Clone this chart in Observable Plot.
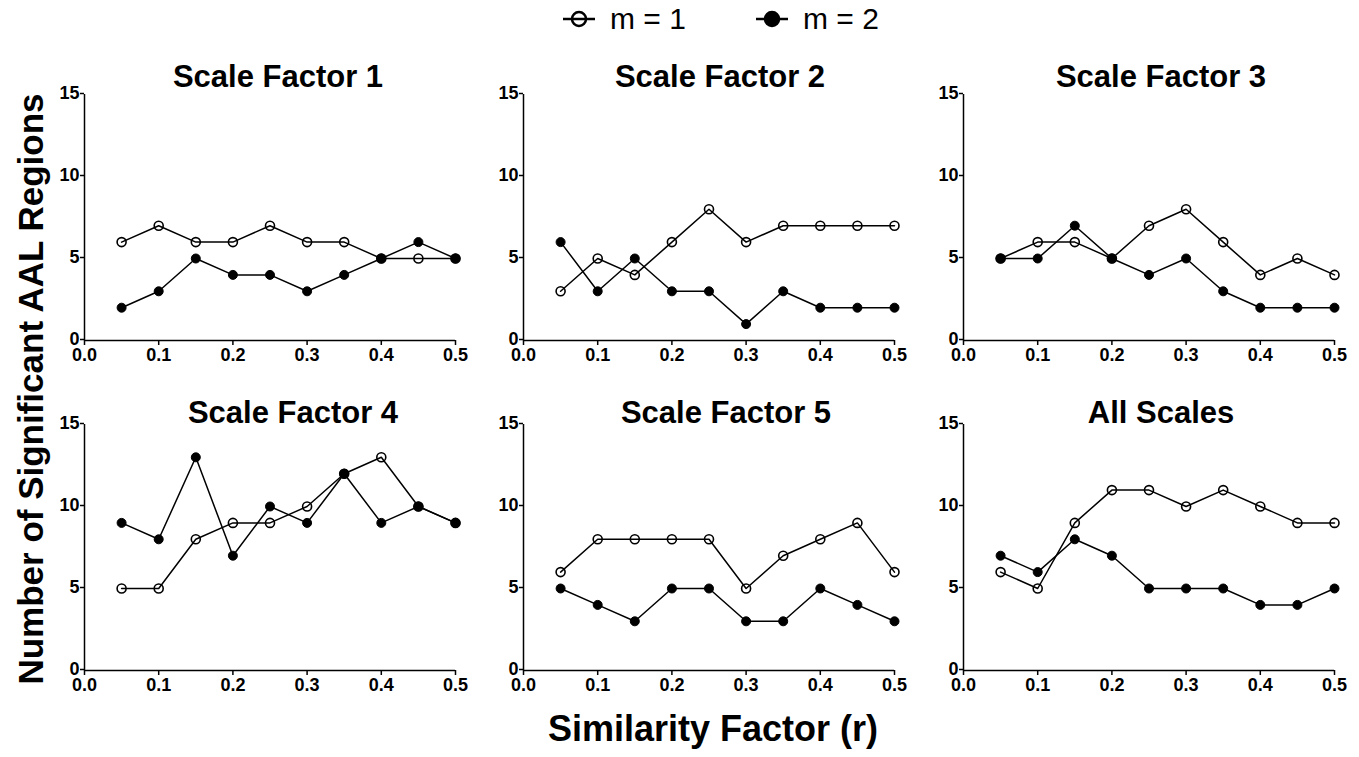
<!DOCTYPE html>
<html><head><meta charset="utf-8">
<script src="https://cdn.jsdelivr.net/npm/d3@7"></script>
<script src="https://cdn.jsdelivr.net/npm/@observablehq/plot@0.6"></script>
<style>
body{margin:0;background:#fff;font-family:"Liberation Sans",Arial,sans-serif;color:#000}
#wrap{position:relative;width:1359px;height:757px;overflow:hidden;background:#fff}
.abs{position:absolute}
.lbl{position:absolute;white-space:nowrap;font-weight:bold;transform:translate(-50%,-50%);line-height:1}
.leg{position:absolute;top:2px;display:flex;align-items:center;font-size:30px;height:34px;line-height:1}
.leg svg{margin-right:14px}
</style></head>
<body><div id="wrap"></div>
<script>
// ---- data ----
const rValues = [0.05, 0.1, 0.15, 0.2, 0.25, 0.3, 0.35, 0.4, 0.45, 0.5];
const panelTitles = ["Scale Factor 1", "Scale Factor 2", "Scale Factor 3", "Scale Factor 4", "Scale Factor 5", "All Scales"];
const sf1_m1 = [6, 7, 6, 6, 7, 6, 6, 5, 5, 5];
const sf1_m2 = [2, 3, 5, 4, 4, 3, 4, 5, 6, 5];
const sf2_m1 = [3, 5, 4, 6, 8, 6, 7, 7, 7, 7];
const sf2_m2 = [6, 3, 5, 3, 3, 1, 3, 2, 2, 2];
const sf3_m1 = [5, 6, 6, 5, 7, 8, 6, 4, 5, 4];
const sf3_m2 = [5, 5, 7, 5, 4, 5, 3, 2, 2, 2];
const sf4_m1 = [5, 5, 8, 9, 9, 10, 12, 13, 10, 9];
const sf4_m2 = [9, 8, 13, 7, 10, 9, 12, 9, 10, 9];
const sf5_m1 = [6, 8, 8, 8, 8, 5, 7, 8, 9, 6];
const sf5_m2 = [5, 4, 3, 5, 5, 3, 3, 5, 4, 3];
const all_m1 = [6, 5, 9, 11, 11, 10, 11, 10, 9, 9];
const all_m2 = [7, 6, 8, 7, 5, 5, 5, 4, 4, 5];
const seriesNames = ["m = 1", "m = 2"];
const xTicks = [0, 0.1, 0.2, 0.3, 0.4, 0.5];
const yTicks = [0, 5, 10, 15];
const xLabel = "Similarity Factor (r)";
const yLabel = "Number of Significant AAL Regions";

const panelSeries = [[sf1_m1, sf1_m2], [sf2_m1, sf2_m2], [sf3_m1, sf3_m2], [sf4_m1, sf4_m2], [sf5_m1, sf5_m2], [all_m1, all_m2]];

// ---- layout ----
const wrap = document.getElementById("wrap");
const colLeft = [40, 479, 919];
const rowTop = [40, 370];
const titleDy = [-8, -2];
const titleDx = [8, 11, 12, 23, 17, 12];

panelSeries.forEach((pair, i) => {
  const col = i % 3, row = Math.floor(i / 3);
  const rows = [];
  pair.forEach((vals, s) => vals.forEach((v, k) => rows.push({r: rValues[k], v, m: seriesNames[s]})));
  const open = rows.filter(d => d.m === seriesNames[0]);
  const filled = rows.filter(d => d.m === seriesNames[1]);
  const p = Plot.plot({
    width: 435,
    height: row === 0 ? 330 : 329,
    marginLeft: 44,
    marginRight: 20,
    marginTop: 54,
    marginBottom: row === 0 ? 30 : 29,
    style: {fontFamily: "'Liberation Sans', Arial, sans-serif", color: "#000", background: "transparent", overflow: "visible"},
    x: {domain: [0, 0.5]},
    y: {domain: [0, 15]},
    marks: [
      Plot.axisX({ticks: xTicks, tickFormat: d3.format(".1f"), tickSize: 5, tickPadding: 3, label: null, strokeWidth: 1.5, fontSize: 18, fontWeight: "bold", fill: "#000"}),
      Plot.axisY({ticks: yTicks, tickSize: 4, tickPadding: 1, label: null, strokeWidth: 1.5, fontSize: 18, fontWeight: "bold", fill: "#000", dy: -1}),
      Plot.ruleX([0], {stroke: "#000", strokeWidth: 1.5}),
      Plot.ruleY([0], {stroke: "#000", strokeWidth: 1.5}),
      Plot.line(rows, {x: "r", y: "v", z: "m", stroke: "#000", strokeWidth: 1.5}),
      Plot.dot(open, {x: "r", y: "v", r: 4.5, fill: "none", stroke: "#000", strokeWidth: 1.6}),
      Plot.dot(filled, {x: "r", y: "v", r: 4.5, fill: "#000", stroke: "#000", strokeWidth: 1}),
      Plot.text([panelTitles[i]], {frameAnchor: "top", lineAnchor: "bottom", dx: titleDx[i], dy: titleDy[row], fontSize: 31, fontWeight: "bold", fill: "#000"})
    ]
  });
  p.classList.add("abs");
  p.style.left = colLeft[col] + "px";
  p.style.top = rowTop[row] + "px";
  wrap.appendChild(p);
});

// legend
function legendItem(name, isOpen, left) {
  const d = document.createElement("div");
  d.className = "leg";
  d.style.left = left + "px";
  d.innerHTML = `<svg width="34" height="20"><line x1="1" x2="33" y1="10" y2="10" stroke="#000" stroke-width="2.5"/>` +
    `<circle cx="17" cy="10" r="7" fill="${isOpen ? "none" : "#000"}" stroke="#000" stroke-width="2.5"/></svg><span>${name}</span>`;
  wrap.appendChild(d);
}
legendItem(seriesNames[0], true, 562);
legendItem(seriesNames[1], false, 755);

// axis titles
const yl = document.createElement("div");
yl.className = "lbl";
yl.style.fontSize = "35px";
yl.style.left = "30px"; yl.style.top = "389px";
yl.style.transform = "translate(-50%,-50%) rotate(-90deg)";
yl.textContent = yLabel;
wrap.appendChild(yl);

const xl = document.createElement("div");
xl.className = "lbl";
xl.style.fontSize = "36px";
xl.style.left = "713px"; xl.style.top = "729px";
xl.textContent = xLabel;
wrap.appendChild(xl);
</script>
</body></html>
